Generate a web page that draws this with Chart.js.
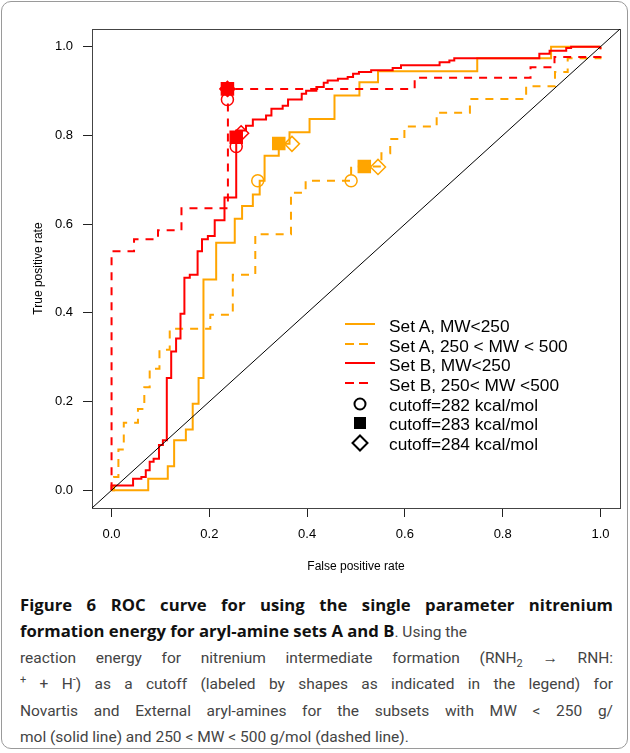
<!DOCTYPE html>
<html>
<head>
<meta charset="utf-8">
<script src="https://cdn.jsdelivr.net/npm/chart.js@4.4.1/dist/chart.umd.min.js"></script>
<style>
  html, body { margin: 0; padding: 0; background: #fff; }
  #page { position: relative; width: 630px; height: 753px; overflow: hidden; }
  #frame { position: absolute; left: 1px; top: 1px; width: 627px; height: 748px; border: 1px solid #9a9a9a; border-radius: 10px; box-sizing: border-box; }
  #chartBox { position: absolute; left: 0; top: 0; width: 630px; height: 580px; }
  .row { position: absolute; left: 345px; height: 20px; line-height: 20px; white-space: nowrap;
         font-family: "Liberation Sans", Arial, sans-serif; font-size: 17.3px; color: #000; }
  .row svg { position: absolute; left: 0; top: 0; }
  .row span { position: absolute; left: 44px; top: 0; }
  #caption { position: absolute; left: 20px; top: 592px; width: 593px; font-family: Roboto, sans-serif; font-size: 15.5px; color: #444; }
  .ln { height: 26.4px; line-height: 26.4px; white-space: nowrap; overflow: hidden; }
  .j { text-align: justify; text-align-last: justify; }
  #caption b { font-family: "Open Sans", sans-serif; font-size: 16.7px; font-weight: 700; color: #111; }
  sub, sup { font-size: 11px; line-height: 0; }
</style>
</head>
<body>
<div id="page">
  <div id="frame"></div>
  <div id="chartBox"><canvas id="rocChart"></canvas></div>

  <div class="row" style="top:316px"><svg width="30" height="20"><line x1="0" y1="8" x2="30" y2="8" stroke="#FFA500" stroke-width="2"/></svg><span>Set A, MW&lt;250</span></div>
  <div class="row" style="top:336px"><svg width="30" height="20"><line x1="0" y1="8" x2="23" y2="8" stroke="#FFA500" stroke-width="2" stroke-dasharray="9 5"/></svg><span>Set A, 250 &lt; MW &lt; 500</span></div>
  <div class="row" style="top:355px"><svg width="30" height="20"><line x1="0" y1="8" x2="30" y2="8" stroke="#FF0000" stroke-width="2"/></svg><span>Set B, MW&lt;250</span></div>
  <div class="row" style="top:375px"><svg width="30" height="20"><line x1="0" y1="8" x2="23" y2="8" stroke="#FF0000" stroke-width="2" stroke-dasharray="9 5"/></svg><span>Set B, 250&lt; MW &lt;500</span></div>
  <div class="row" style="top:395px"><svg width="30" height="20"><circle cx="15" cy="9" r="5.5" fill="none" stroke="#000" stroke-width="2"/></svg><span>cutoff=282 kcal/mol</span></div>
  <div class="row" style="top:414px"><svg width="30" height="20"><rect x="9" y="3" width="12" height="12" fill="#000"/></svg><span>cutoff=283 kcal/mol</span></div>
  <div class="row" style="top:434px"><svg width="30" height="20"><polygon points="15,1.5 22.5,9 15,16.5 7.5,9" fill="none" stroke="#000" stroke-width="2"/></svg><span>cutoff=284 kcal/mol</span></div>

  <div id="caption">
    <div class="ln j"><b>Figure 6 ROC curve for using the single parameter nitrenium</b></div>
    <div class="ln"><b>formation energy for aryl-amine sets A and B</b>. Using the</div>
    <div class="ln j">reaction energy for nitrenium intermediate formation (RNH<sub>2</sub> &rarr; RNH:</div>
    <div class="ln j"><sup>+</sup> + H<sup>-</sup>) as a cutoff (labeled by shapes as indicated in the legend) for</div>
    <div class="ln j">Novartis and External aryl-amines for the subsets with MW &lt; 250 g/</div>
    <div class="ln">mol (solid line) and 250 &lt; MW &lt; 500 g/mol (dashed line).</div>
  </div>
</div>

<script>
// ROC curves, corner points (false positive rate, true positive rate)
const setALowFpr = [0, 0.075, 0.115, 0.128, 0.152, 0.166, 0.178, 0.188, 0.214, 0.252, 0.267, 0.289, 0.303, 0.313, 0.342, 0.364, 0.405, 0.456, 0.507, 0.545, 0.748, 0.899, 1.0];
const setALowTpr = [0, 0.026, 0.054, 0.113, 0.137, 0.195, 0.253, 0.475, 0.558, 0.612, 0.641, 0.667, 0.698, 0.754, 0.781, 0.807, 0.837, 0.890, 0.920, 0.945, 0.974, 1.0, 1.0];

const setAHighFpr = [0, 0.005, 0.014, 0.025, 0.054, 0.067, 0.078, 0.098, 0.119, 0.202, 0.248, 0.294, 0.367, 0.397, 0.490, 0.552, 0.570, 0.599, 0.665, 0.733, 0.848, 0.907, 0.933, 1.0, 1.0];
const setAHighTpr = [0, 0.030, 0.092, 0.152, 0.183, 0.232, 0.274, 0.317, 0.364, 0.396, 0.486, 0.577, 0.671, 0.698, 0.730, 0.760, 0.792, 0.820, 0.851, 0.882, 0.911, 0.943, 0.974, 0.974, 1.0];

const setBLowFpr = [0, 0, 0.044, 0.061, 0.070, 0.078, 0.086, 0.097, 0.105, 0.113, 0.122, 0.132, 0.141, 0.149, 0.160, 0.176, 0.185, 0.197, 0.211, 0.231, 0.255, 0.275, 0.289, 0.316, 0.327, 0.350, 0.361, 0.389, 0.398, 0.419, 0.434, 0.442, 0.463, 0.483, 0.494, 0.506, 0.531, 0.575, 0.592, 0.671, 0.691, 0.701, 0.875, 0.896, 0.930, 0.940, 1.0];
const setBLowTpr = [0, 0.011, 0.026, 0.030, 0.045, 0.064, 0.071, 0.102, 0.113, 0.253, 0.313, 0.342, 0.398, 0.479, 0.486, 0.539, 0.566, 0.573, 0.609, 0.660, 0.811, 0.822, 0.836, 0.845, 0.860, 0.867, 0.881, 0.894, 0.901, 0.909, 0.919, 0.924, 0.928, 0.932, 0.939, 0.943, 0.947, 0.952, 0.958, 0.965, 0.969, 0.974, 0.984, 0.991, 0.997, 1.0, 1.0];

const setBHighFpr = [0, 0, 0.046, 0.095, 0.143, 0.238, 0.620, 0.857, 0.906, 1.0, 1.0];
const setBHighTpr = [0, 0.539, 0.566, 0.586, 0.636, 0.905, 0.930, 0.954, 0.977, 0.977, 1.0];

// cutoff markers, order: set A low, set A high, set B low, set B high
const cut282Fpr = [0.299, 0.490, 0.255, 0.237];
const cut282Tpr = [0.698, 0.698, 0.775, 0.881];
const cut283Fpr = [0.342, 0.517, 0.255, 0.237];
const cut283Tpr = [0.782, 0.730, 0.796, 0.905];
const cut284Fpr = [0.369, 0.545, 0.265, 0.237];
const cut284Tpr = [0.781, 0.729, 0.805, 0.905];

const diagonalX = [-0.04, 1.04];
const diagonalY = [-0.04, 1.04];

const xTicks = [0, 0.2, 0.4, 0.6, 0.8, 1.0];
const yTicks = [0, 0.2, 0.4, 0.6, 0.8, 1.0];

const ORANGE = '#FFA500';
const RED = '#FF0000';
const markerColors = [ORANGE, ORANGE, RED, RED];

const toPoints = (xs, ys) => xs.map((x, i) => ({ x: x, y: ys[i] }));

const curve = (label, xs, ys, color, dashed) => ({
    label: label,
    data: toPoints(xs, ys),
    showLine: true,
    stepped: true,
    borderColor: color,
    borderWidth: 2,
    borderDash: dashed ? [8, 7] : [],
    pointRadius: 0,
    fill: false,
    order: 3
});

const markers = (label, xs, ys, style, radius, filled) => ({
    label: label,
    data: toPoints(xs, ys),
    showLine: false,
    pointStyle: style,
    pointRadius: radius,
    pointBorderWidth: 1.5,
    pointBorderColor: markerColors,
    pointBackgroundColor: filled ? markerColors : 'rgba(0,0,0,0)',
    order: 0
});

const plotBox = {
    id: 'plotBox',
    beforeDatasetsDraw: (chart) => {
        const { ctx, chartArea } = chart;
        ctx.save();
        ctx.strokeStyle = '#444';
        ctx.lineWidth = 1;
        ctx.strokeRect(chartArea.left + 0.5, chartArea.top + 0.5, chartArea.right - chartArea.left, chartArea.bottom - chartArea.top);
        ctx.restore();
    }
};

const tickFont = { family: 'Liberation Sans', size: 13 };
const titleFont = { family: 'Liberation Sans', size: 12 };

let rocNode = document.getElementById('rocChart').getContext('2d');

let rocChart = new Chart(rocNode, {
    type: 'scatter',
    data: {
        datasets: [
            markers('cutoff=282 kcal/mol', cut282Fpr, cut282Tpr, 'circle', 6, false),
            markers('cutoff=283 kcal/mol', cut283Fpr, cut283Tpr, 'rect', 8.5, true),
            markers('cutoff=284 kcal/mol', cut284Fpr, cut284Tpr, 'rectRot', 7.5, false),
            {
                label: 'diagonal',
                data: toPoints(diagonalX, diagonalY),
                showLine: true,
                borderColor: '#000',
                borderWidth: 1,
                pointRadius: 0,
                order: 1
            },
            curve('Set B, MW<250', setBLowFpr, setBLowTpr, RED, false),
            curve('Set B, 250< MW <500', setBHighFpr, setBHighTpr, RED, true),
            curve('Set A, MW<250', setALowFpr, setALowTpr, ORANGE, false),
            curve('Set A, 250 < MW < 500', setAHighFpr, setAHighTpr, ORANGE, true)
        ]
    },
    options: {
        responsive: true,
        maintainAspectRatio: false,
        animation: false,
        layout: { padding: { top: 29, right: 9, left: 0, bottom: 0 } },
        plugins: {
            legend: { display: false },
            tooltip: { enabled: false }
        },
        scales: {
            x: {
                type: 'linear',
                min: -0.04,
                max: 1.04,
                afterBuildTicks: (axis) => { axis.ticks = xTicks.map(v => ({ value: v })); },
                afterFit: (axis) => { axis.height = 72; },
                grid: { drawOnChartArea: false, drawTicks: true, tickLength: 9, color: '#222' },
                border: { display: true, color: '#444' },
                ticks: { callback: (v) => v.toFixed(1), font: tickFont, color: '#000', padding: 10, maxRotation: 0, autoSkip: false },
                title: { display: true, text: 'False positive rate', font: titleFont, color: '#000', padding: { top: 0, bottom: 6 } }
            },
            y: {
                type: 'linear',
                min: -0.04,
                max: 1.04,
                afterBuildTicks: (axis) => { axis.ticks = yTicks.map(v => ({ value: v })); },
                afterFit: (axis) => { axis.width = 92; },
                grid: { drawOnChartArea: false, drawTicks: true, tickLength: 9, color: '#222' },
                border: { display: true, color: '#444' },
                ticks: { callback: (v) => v.toFixed(1), font: tickFont, color: '#000', padding: 10, autoSkip: false },
                title: { display: true, text: 'True positive rate', font: titleFont, color: '#000', padding: { top: 31, bottom: 0 } }
            }
        }
    },
    plugins: [plotBox]
});
</script>
</body>
</html>
